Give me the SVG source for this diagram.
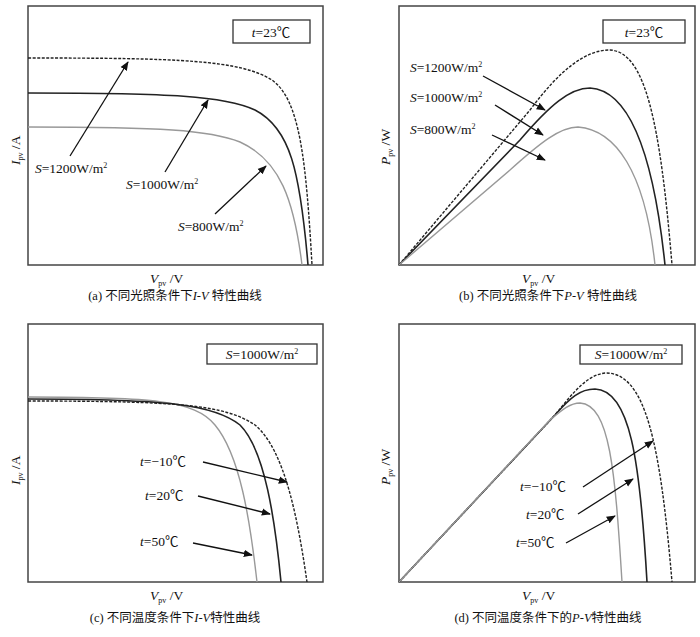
<svg xmlns="http://www.w3.org/2000/svg" width="700" height="637" viewBox="0 0 700 637">
<defs>
<marker id="ah" viewBox="0 0 10 10" refX="9" refY="5" markerWidth="7" markerHeight="7" orient="auto"><path d="M0,1 L10,5 L0,9 z" fill="#111"/></marker>
<style>
text{font-family:"Liberation Serif","Noto Sans CJK SC",serif;fill:#111;font-size:13.5px}
.frame{fill:none;stroke:#444;stroke-width:1.5}
.box{fill:#fff;stroke:#333;stroke-width:1.3}
.d{fill:none;stroke:#222;stroke-width:1.4;stroke-dasharray:3,1.5}
.s{fill:none;stroke:#222;stroke-width:1.6}
.g{fill:none;stroke:#999;stroke-width:1.4}
.arr{stroke:#111;stroke-width:1.3;fill:none;marker-end:url(#ah)}
.cap{font-size:12.5px}
</style>
</defs>
<rect width="700" height="637" fill="#fff"/>
<g id="panel-a">
<rect class="frame" x="28" y="6" width="295" height="259"/>
<path class="d" d="M28,58 C180,58 240,60 272,80 C300,100 306,160 312,265"/>
<path class="s" d="M28,93 C170,93 225,96 255,110 C290,128 300,170 308,265"/>
<path class="g" d="M28,127 C160,127 210,130 240,142 C280,160 294,200 302,265"/>
<rect class="box" x="233" y="20" width="77" height="23"/>
<text x="271" y="37" text-anchor="middle"><tspan font-style="italic">t</tspan>=23℃</text>
<text x="35" y="173"><tspan font-style="italic">S</tspan>=1200W/m<tspan font-size="8" dy="-5">2</tspan></text>
<text x="126" y="189"><tspan font-style="italic">S</tspan>=1000W/m<tspan font-size="8" dy="-5">2</tspan></text>
<text x="178" y="231"><tspan font-style="italic">S</tspan>=800W/m<tspan font-size="8" dy="-5">2</tspan></text>
<text x="150" y="283"><tspan font-style="italic">V</tspan><tspan font-size="8" dy="3">pv</tspan><tspan dy="-3"> /V</tspan></text>
<text transform="translate(20,165) rotate(-90)"><tspan font-style="italic">I</tspan><tspan font-size="8" dy="3">pv</tspan><tspan dy="-3"> /A</tspan></text>
<text class="cap" x="175" y="300" text-anchor="middle">(a) 不同光照条件下<tspan font-style="italic">I</tspan>-<tspan font-style="italic">V</tspan> 特性曲线</text>
</g>
<g id="panel-b">
<rect class="frame" x="399" y="6" width="296" height="259"/>
<path class="d" d="M399,265 L530,110 C560,70 585,50 610,50 C645,52 660,120 672,265"/>
<path class="s" d="M399,265 L520,140 C550,105 570,88 590,88 C625,90 652,140 665,265"/>
<path class="g" d="M399,265 L510,170 C540,143 560,127 578,127 C615,130 645,170 655,265"/>
<rect class="box" x="603" y="20" width="82" height="23"/>
<text x="644" y="37" text-anchor="middle"><tspan font-style="italic">t</tspan>=23℃</text>
<text x="410" y="72"><tspan font-style="italic">S</tspan>=1200W/m<tspan font-size="8" dy="-5">2</tspan></text>
<text x="410" y="102"><tspan font-style="italic">S</tspan>=1000W/m<tspan font-size="8" dy="-5">2</tspan></text>
<text x="410" y="134"><tspan font-style="italic">S</tspan>=800W/m<tspan font-size="8" dy="-5">2</tspan></text>
<text x="522" y="283"><tspan font-style="italic">V</tspan><tspan font-size="8" dy="3">pv</tspan><tspan dy="-3"> /V</tspan></text>
<text transform="translate(390,165) rotate(-90)"><tspan font-style="italic">P</tspan><tspan font-size="8" dy="3">pv</tspan><tspan dy="-3"> /W</tspan></text>
<text class="cap" x="548" y="300" text-anchor="middle">(b) 不同光照条件下<tspan font-style="italic">P</tspan>-<tspan font-style="italic">V</tspan> 特性曲线</text>
</g>
<g id="panel-c">
<rect class="frame" x="28" y="324" width="295" height="258"/>
<path class="g" d="M28,397 C150,397 195,400 215,425 C240,455 250,520 257,582"/>
<path class="s" d="M28,399 C170,399 215,405 240,425 C265,450 275,520 281,582"/>
<path class="d" d="M28,401 C180,401 225,405 255,425 C285,450 298,520 307,582"/>
<rect class="box" x="207" y="344" width="110" height="20"/>
<text x="262" y="359" text-anchor="middle"><tspan font-style="italic">S</tspan>=1000W/m<tspan font-size="8" dy="-5">2</tspan></text>
<text x="140" y="466"><tspan font-style="italic">t</tspan>=−10℃</text>
<text x="145" y="500"><tspan font-style="italic">t</tspan>=20℃</text>
<text x="140" y="546"><tspan font-style="italic">t</tspan>=50℃</text>
<text x="150" y="600"><tspan font-style="italic">V</tspan><tspan font-size="8" dy="3">pv</tspan><tspan dy="-3"> /V</tspan></text>
<text transform="translate(20,485) rotate(-90)"><tspan font-style="italic">I</tspan><tspan font-size="8" dy="3">pv</tspan><tspan dy="-3"> /A</tspan></text>
<text class="cap" x="175" y="622" text-anchor="middle">(c) 不同温度条件下<tspan font-style="italic">I</tspan>-<tspan font-style="italic">V</tspan>特性曲线</text>
</g>
<g id="panel-d">
<rect class="frame" x="399" y="324" width="296" height="258"/>
<path class="d" d="M399,582 L555,415 C575,390 588,375 605,373 C645,372 660,440 672,582"/>
<path class="s" d="M399,582 L555,415 C570,398 580,389 595,389 C630,390 640,460 647,582"/>
<path class="g" d="M399,582 L550,420 C562,410 570,403 580,403 C610,405 615,470 622,582"/>
<rect class="box" x="580" y="345" width="102" height="19"/>
<text x="631" y="359" text-anchor="middle"><tspan font-style="italic">S</tspan>=1000W/m<tspan font-size="8" dy="-5">2</tspan></text>
<text x="520" y="491"><tspan font-style="italic">t</tspan>=−10℃</text>
<text x="526" y="519"><tspan font-style="italic">t</tspan>=20℃</text>
<text x="516" y="547"><tspan font-style="italic">t</tspan>=50℃</text>
<text x="522" y="600"><tspan font-style="italic">V</tspan><tspan font-size="8" dy="3">pv</tspan><tspan dy="-3"> /V</tspan></text>
<text transform="translate(390,485) rotate(-90)"><tspan font-style="italic">P</tspan><tspan font-size="8" dy="3">pv</tspan><tspan dy="-3"> /W</tspan></text>
<text class="cap" x="548" y="622" text-anchor="middle">(d) 不同温度条件下的<tspan font-style="italic">P</tspan>-<tspan font-style="italic">V</tspan>特性曲线</text>
</g>
<g id="connectors">
<line class="arr" x1="70" y1="156" x2="128" y2="62"/>
<line class="arr" x1="165" y1="172" x2="208" y2="100"/>
<line class="arr" x1="215" y1="214" x2="266" y2="166"/>
<line class="arr" x1="483" y1="76" x2="545" y2="110"/>
<line class="arr" x1="495" y1="105" x2="543" y2="135"/>
<line class="arr" x1="492" y1="135" x2="545" y2="160"/>
<line class="arr" x1="203" y1="462" x2="287" y2="482"/>
<line class="arr" x1="198" y1="496" x2="270" y2="514"/>
<line class="arr" x1="193" y1="543" x2="252" y2="555"/>
<line class="arr" x1="583" y1="487" x2="653" y2="441"/>
<line class="arr" x1="578" y1="514" x2="633" y2="479"/>
<line class="arr" x1="566" y1="543" x2="615" y2="516"/>
</g>
</svg>
